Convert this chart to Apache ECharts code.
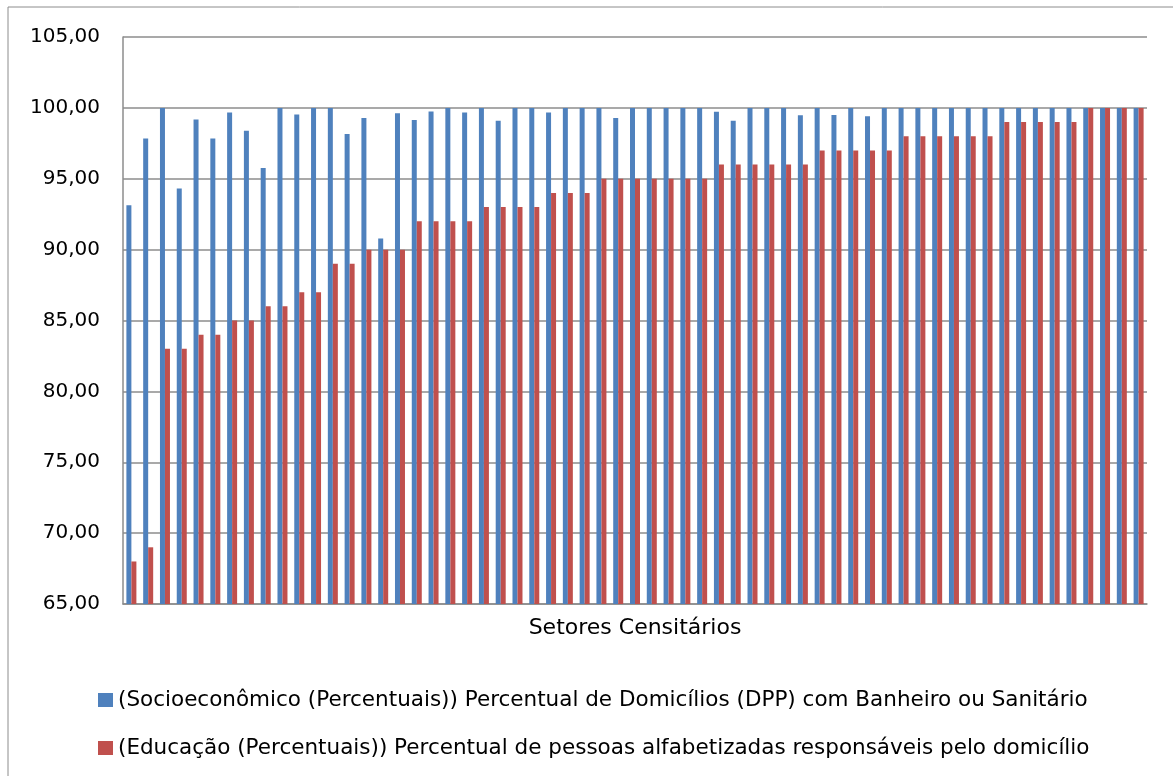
<!DOCTYPE html>
<html>
<head>
<meta charset="utf-8">
<script src="https://cdn.jsdelivr.net/npm/echarts@6/dist/echarts.min.js"></script>
<style>
  html, body { margin: 0; padding: 0; background: #fff; }
  #chart { width: 1173px; height: 776px; }
</style>
</head>
<body>
<div id="chart"></div>
<script>
// setores censitarios (sem rotulo no grafico original)
const setores = Array.from({length: 61}, (_, i) => 'Setor ' + (i + 1));

// (Socioeconômico) % domicilios com banheiro ou sanitario
const banheiro = [
  93.13, 97.84, 100, 94.31, 99.18, 97.84, 99.67, 98.38, 95.76, 100,
  99.53, 100, 100, 98.16, 99.29, 90.78, 99.62, 99.15, 99.74, 100,
  99.67, 100, 99.10, 100, 100, 99.67, 100, 100, 100, 99.29,
  100, 100, 100, 100, 100, 99.72, 99.10, 100, 100, 100,
  99.48, 100, 99.50, 100, 99.41, 100, 100, 100, 100, 100,
  100, 100, 100, 100, 100, 100, 100, 100, 100, 100,
  100
];

// (Educação) % pessoas alfabetizadas responsaveis pelo domicilio
const alfabetizadas = [
  68, 69, 83, 83, 84, 84, 85, 85, 86, 86,
  87, 87, 89, 89, 90, 90, 90, 92, 92, 92,
  92, 93, 93, 93, 93, 94, 94, 94, 95, 95,
  95, 95, 95, 95, 95, 96, 96, 96, 96, 96,
  96, 97, 97, 97, 97, 97, 98, 98, 98, 98,
  98, 98, 99, 99, 99, 99, 99, 100, 100, 100,
  100
];

const nomeSerie1 = '(Socioeconômico (Percentuais)) Percentual de Domicílios (DPP) com Banheiro ou Sanitário';
const nomeSerie2 = '(Educação (Percentuais)) Percentual de pessoas alfabetizadas responsáveis pelo domicílio';

const font = 'DejaVu Sans';
const chart = echarts.init(document.getElementById('chart'));

const option = {
  animation: false,
  backgroundColor: '#fff',
  textStyle: { fontFamily: font, color: '#000' },
  graphic: [{
    type: 'rect',
    shape: { x: 8, y: 7, width: 1200, height: 800 },
    style: { fill: 'none', stroke: '#8c8c8c', lineWidth: 1 },
    silent: true
  }],
  grid: { left: 123, right: 26, top: 37, bottom: 172, containLabel: false },
  legend: {
    orient: 'vertical',
    left: 98,
    top: 689,
    padding: 0,
    itemWidth: 15,
    itemHeight: 14,
    itemGap: 26,
    icon: 'rect',
    textStyle: { fontFamily: font, fontSize: 21.5, color: '#000', padding: [0, 0, 0, 0] },
    data: [nomeSerie1, nomeSerie2]
  },
  xAxis: {
    type: 'category',
    data: setores,
    name: 'Setores Censitários',
    nameLocation: 'middle',
    nameGap: 13,
    nameTextStyle: { fontFamily: font, fontSize: 22, color: '#000', verticalAlign: 'top' },
    axisLine: { lineStyle: { color: '#8c8c8c', width: 1.5 } },
    axisTick: { show: false },
    axisLabel: { show: false }
  },
  yAxis: {
    type: 'value',
    min: 65,
    max: 105,
    interval: 5,
    axisLine: { show: true, lineStyle: { color: '#8c8c8c', width: 1.5 } },
    axisTick: { show: false },
    axisLabel: {
      fontFamily: font,
      fontSize: 20,
      color: '#000',
      margin: 23,
      formatter: v => v.toFixed(2).replace('.', ',')
    },
    splitLine: { lineStyle: { color: '#8c8c8c', width: 1.5 } }
  },
  series: [
    {
      name: nomeSerie1,
      type: 'bar',
      data: banheiro,
      barWidth: 5,
      barGap: '0%',
      itemStyle: { color: '#4F81BD' }
    },
    {
      name: nomeSerie2,
      type: 'bar',
      data: alfabetizadas,
      barWidth: 5,
      barGap: '0%',
      itemStyle: { color: '#C0504D' }
    }
  ]
};

chart.setOption(option);
</script>
</body>
</html>
